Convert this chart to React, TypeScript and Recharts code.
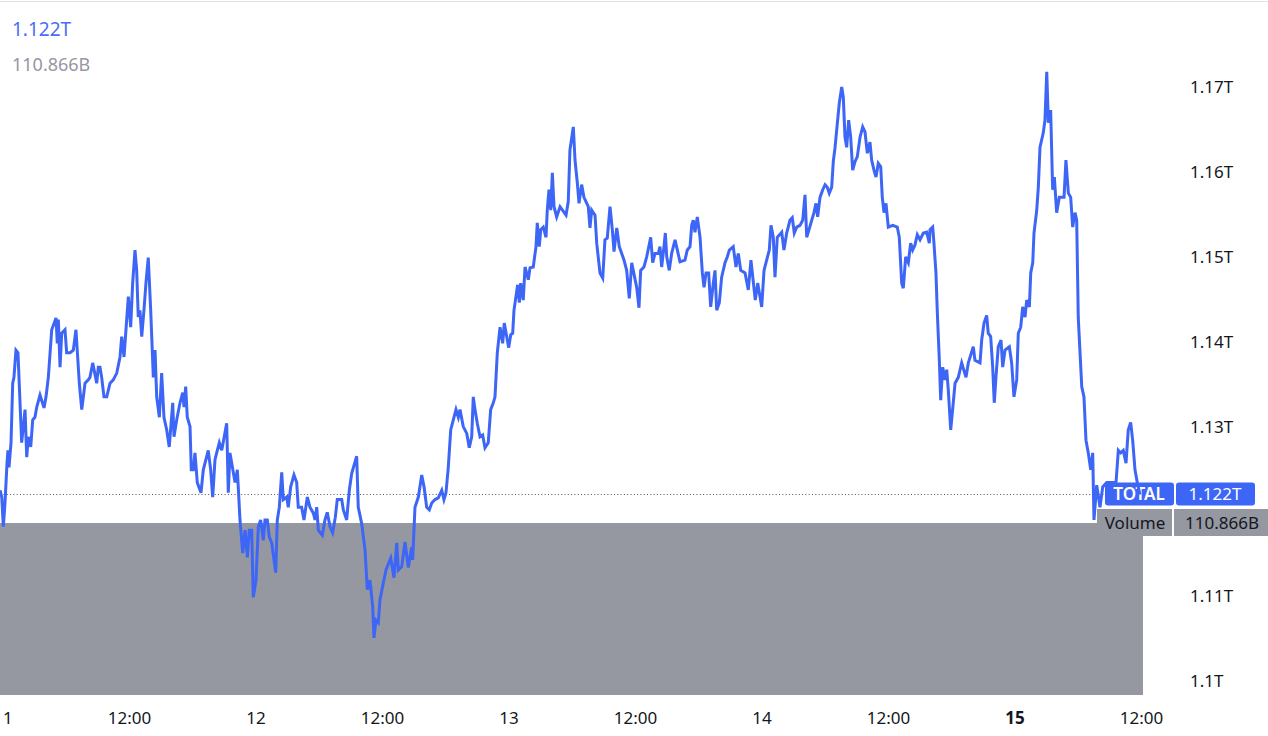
import { LineChart, Line, XAxis, YAxis, ReferenceArea, ReferenceLine } from "recharts";

// hours since day 11, 00:00
const hours = [
  -0.28, -0.12, 0.03, 0.19, 0.38, 0.47, 0.57, 0.76, 0.92, 1.04,
  1.23, 1.42, 1.77, 2.09, 2.25, 2.4, 2.63, 2.82, 3.03, 3.2,
  3.51, 3.89, 4.08, 4.3, 4.62, 5.03, 5.15, 5.25, 5.41, 5.57,
  5.88, 6.04, 6.36, 6.67, 6.92, 7.24, 7.47, 7.62, 7.78, 8.09,
  8.25, 8.51, 8.89, 9.04, 9.2, 9.36, 9.58, 9.84, 10.15, 10.46,
  10.79, 11.1, 11.26, 11.48, 11.89, 12.11, 12.3, 12.52, 12.68, 12.83,
  12.99, 13.16, 13.37, 13.56, 13.78, 14.01, 14.26, 14.42, 14.58, 14.83,
  15.05, 15.27, 15.53, 15.77, 16.1, 16.22, 16.48, 16.79, 17.05, 17.17,
  17.33, 17.48, 17.74, 17.86, 18.05, 18.21, 18.43, 18.78, 19.0, 19.47,
  19.7, 19.89, 20.11, 20.33, 20.52, 20.75, 21.22, 21.37, 21.53, 22.01,
  22.23, 22.48, 22.74, 22.96, 23.18, 23.36, 23.59, 23.74, 24.0, 24.22,
  24.44, 24.69, 24.85, 25.07, 25.26, 25.49, 25.87, 26.02, 26.21, 26.44,
  26.59, 26.91, 27.06, 27.29, 27.6, 27.86, 28.01, 28.33, 28.55, 28.87,
  29.12, 29.44, 29.6, 29.76, 29.91, 30.29, 30.54, 30.76, 31.02, 31.27,
  31.52, 31.71, 32.13, 32.28, 32.6, 32.85, 33.08, 33.55, 33.7, 34.02,
  34.34, 34.56, 34.81, 35.07, 35.19, 35.38, 35.6, 35.76, 36.08, 36.33,
  36.78, 37.09, 37.35, 37.5, 37.82, 38.13, 38.45, 38.77, 38.86, 39.08,
  39.4, 39.72, 39.94, 40.19, 40.44, 40.67, 40.98, 41.29, 41.62, 41.83,
  42.02, 42.24, 42.47, 42.97, 43.19, 43.35, 43.66, 43.99, 44.23, 44.46,
  44.61, 44.77, 44.99, 45.25, 45.5, 45.72, 46.03, 46.26, 46.51, 46.67,
  46.89, 47.15, 47.4, 47.55, 47.78, 47.97, 48.16, 48.35, 48.47, 48.82,
  48.98, 49.11, 49.35, 49.52, 49.83, 49.99, 50.3, 50.56, 50.68, 50.87,
  51.01, 51.25, 51.51, 51.63, 51.79, 51.96, 52.11, 52.27, 52.52, 52.84,
  53.41, 53.62, 53.78, 54.1, 54.26, 54.48, 54.64, 54.89, 55.11, 55.52,
  55.68, 55.84, 56.16, 56.32, 56.63, 56.89, 57.1, 57.32, 57.58, 57.8,
  57.96, 58.22, 58.46, 58.91, 59.16, 59.41, 59.64, 60.11, 60.33, 60.49,
  60.8, 61.06, 61.44, 61.63, 61.85, 62.16, 62.32, 62.48, 62.7, 62.83,
  62.96, 63.2, 63.43, 63.75, 64.22, 64.69, 64.91, 65.17, 65.33, 65.48,
  65.64, 65.86, 66.12, 66.34, 66.5, 66.69, 66.94, 67.13, 67.38, 67.54,
  67.7, 67.95, 68.17, 68.49, 68.71, 68.9, 69.27, 69.53, 69.75, 69.98,
  70.39, 70.7, 70.95, 71.36, 71.59, 71.97, 72.19, 72.44, 72.69, 72.85,
  73.07, 73.23, 73.45, 73.87, 74.08, 74.34, 74.65, 74.87, 75.06, 75.29,
  75.6, 75.86, 76.08, 76.24, 76.46, 76.71, 76.93, 77.12, 77.28, 77.5,
  77.76, 77.98, 78.19, 78.38, 78.61, 78.76, 78.92, 79.08, 79.33, 79.56,
  79.71, 79.87, 80.03, 80.22, 80.41, 80.6, 80.82, 81.04, 81.3, 81.55,
  81.77, 81.99, 82.24, 82.4, 82.62, 82.81, 83.03, 83.26, 83.41, 83.57,
  83.76, 83.98, 84.4, 84.83, 85.02, 85.25, 85.4, 85.63, 85.88, 86.1,
  86.29, 86.51, 86.73, 86.99, 87.3, 87.62, 87.87, 87.94, 88.19, 88.31,
  88.5, 88.63, 88.82, 88.95, 89.14, 89.36, 89.52, 89.67, 89.9, 90.14,
  90.31, 90.62, 90.94, 91.35, 91.57, 92.04, 92.2, 92.68, 92.84, 93.06,
  93.31, 93.46, 93.69, 93.88, 94.03, 94.19, 94.41, 94.67, 94.83, 95.05,
  95.46, 95.68, 95.9, 96.16, 96.31, 96.54, 96.73, 96.95, 97.11, 97.36,
  97.49, 97.68, 97.8, 98.06, 98.21, 98.37, 98.68, 98.84, 99.01, 99.16,
  99.38, 99.57, 99.73, 99.95, 100.2, 100.65, 100.83, 101.06, 101.28, 101.47,
  101.69, 101.85, 102.0, 102.33, 102.54, 102.73, 102.95, 103.18, 103.37, 103.49,
  103.75, 104.06, 104.32, 104.7, 105.33, 105.58, 105.8, 106.02, 106.27, 106.53,
  106.74, 106.97, 107.16, 107.38, 107.6, 107.85,
];

// total market cap, trillions
const totalCap = [
  1.1225, 1.1217, 1.1182, 1.121, 1.1257, 1.1272, 1.1252, 1.1281, 1.1351, 1.1358,
  1.139, 1.1387, 1.1281, 1.132, 1.1264, 1.1288, 1.1276, 1.1308, 1.1311, 1.1323,
  1.1337, 1.1322, 1.1335, 1.1358, 1.1414, 1.1428, 1.1398, 1.1426, 1.137, 1.141,
  1.1414, 1.1387, 1.1387, 1.139, 1.1414, 1.1351, 1.132, 1.1335, 1.1351, 1.1355,
  1.1358, 1.1375, 1.1351, 1.137, 1.137, 1.1358, 1.1335, 1.1335, 1.1351, 1.1355,
  1.1363, 1.1382, 1.1406, 1.1382, 1.1453, 1.1417, 1.1469, 1.1508, 1.1484, 1.1429,
  1.1437, 1.1406, 1.1437, 1.1469, 1.1499, 1.1437, 1.1358, 1.139, 1.1335, 1.1311,
  1.1363, 1.1311, 1.1296, 1.1276, 1.1328, 1.1288, 1.1308, 1.1328, 1.134, 1.1323,
  1.1347, 1.1311, 1.13, 1.1249, 1.1249, 1.1269, 1.1234, 1.1222, 1.1249, 1.1272,
  1.1249, 1.1217, 1.1261, 1.1272, 1.1281, 1.1272, 1.1304, 1.1222, 1.1269, 1.1234,
  1.1249, 1.119, 1.1151, 1.1178, 1.1146, 1.1178, 1.1178, 1.1099, 1.1119, 1.1182,
  1.119, 1.1166, 1.119, 1.119, 1.117, 1.1163, 1.1128, 1.119, 1.1205, 1.1246,
  1.1214, 1.1217, 1.1205, 1.1229, 1.1243, 1.1234, 1.1205, 1.1205, 1.119, 1.1217,
  1.1205, 1.1198, 1.119, 1.1205, 1.1178, 1.1172, 1.119, 1.1199, 1.1182, 1.1175,
  1.1193, 1.1214, 1.1214, 1.1202, 1.119, 1.1225, 1.1245, 1.1265, 1.1205, 1.1186,
  1.1155, 1.1108, 1.1119, 1.1088, 1.1051, 1.1072, 1.1069, 1.1096, 1.1116, 1.1131,
  1.1145, 1.1122, 1.1163, 1.1131, 1.1135, 1.1164, 1.1134, 1.1158, 1.1143, 1.1205,
  1.1217, 1.1243, 1.1229, 1.1205, 1.1202, 1.121, 1.1214, 1.1216, 1.1225, 1.1214,
  1.1222, 1.1252, 1.1296, 1.132, 1.1311, 1.132, 1.13, 1.1292, 1.1275, 1.1288,
  1.1335, 1.132, 1.1304, 1.1288, 1.129, 1.1275, 1.1281, 1.132, 1.1328, 1.1335,
  1.1387, 1.1417, 1.1398, 1.1422, 1.1406, 1.1393, 1.1408, 1.141, 1.1437, 1.1467,
  1.1446, 1.1469, 1.1449, 1.1488, 1.1473, 1.1487, 1.1488, 1.1512, 1.154, 1.1512,
  1.1532, 1.1535, 1.1523, 1.1555, 1.1579, 1.1555, 1.1599, 1.1559, 1.1547, 1.1559,
  1.1549, 1.1565, 1.1626, 1.1653, 1.1614, 1.1587, 1.1563, 1.1585, 1.157, 1.1559,
  1.1534, 1.1555, 1.1549, 1.1516, 1.1481, 1.1475, 1.152, 1.1522, 1.1559, 1.1532,
  1.1506, 1.1534, 1.1512, 1.1496, 1.1484, 1.1451, 1.1493, 1.1464, 1.144, 1.1484,
  1.1488, 1.15, 1.1523, 1.1493, 1.1504, 1.1504, 1.1512, 1.1488, 1.1512, 1.1528,
  1.15, 1.1484, 1.1504, 1.152, 1.1494, 1.1496, 1.1508, 1.1512, 1.1537, 1.1543,
  1.1529, 1.1547, 1.1523, 1.1481, 1.1464, 1.1481, 1.1481, 1.1441, 1.1469, 1.1484,
  1.1437, 1.1446, 1.1476, 1.1493, 1.15, 1.1508, 1.1512, 1.1488, 1.1504, 1.1484,
  1.1481, 1.1461, 1.1496, 1.1449, 1.1469, 1.1441, 1.1484, 1.1496, 1.1508, 1.1537,
  1.1523, 1.1476, 1.1523, 1.1529, 1.1508, 1.1528, 1.1543, 1.1546, 1.1528, 1.1535,
  1.1537, 1.1543, 1.1573, 1.1523, 1.1532, 1.1543, 1.1552, 1.1563, 1.1547, 1.157,
  1.1579, 1.1585, 1.1582, 1.1575, 1.1582, 1.1612, 1.1628, 1.1649, 1.1681, 1.17,
  1.1688, 1.1641, 1.1629, 1.1661, 1.1641, 1.1602, 1.1612, 1.1618, 1.1641, 1.1653,
  1.1647, 1.1622, 1.1635, 1.1614, 1.1602, 1.1594, 1.161, 1.1606, 1.157, 1.1552,
  1.1563, 1.1535, 1.1537, 1.1535, 1.1523, 1.1469, 1.1463, 1.15, 1.1493, 1.1516,
  1.1508, 1.1514, 1.1526, 1.152, 1.1528, 1.1529, 1.1516, 1.1532, 1.1535, 1.1516,
  1.1481, 1.1434, 1.1378, 1.1331, 1.137, 1.1355, 1.1367, 1.1343, 1.1296, 1.1328,
  1.1351, 1.1358, 1.1375, 1.1358, 1.1375, 1.1394, 1.1378, 1.1375, 1.1402, 1.1422,
  1.1431, 1.141, 1.1406, 1.137, 1.1328, 1.1358, 1.1394, 1.1402, 1.137, 1.139,
  1.1394, 1.1375, 1.1335, 1.1355, 1.141, 1.1417, 1.1441, 1.1429, 1.1449, 1.1441,
  1.1481, 1.1493, 1.1528, 1.1555, 1.1582, 1.1629, 1.1646, 1.1661, 1.1718, 1.1658,
  1.1673, 1.1579, 1.1594, 1.1552, 1.157, 1.157, 1.1614, 1.1575, 1.157, 1.1535,
  1.1552, 1.1543, 1.1428, 1.1347, 1.1335, 1.1284, 1.1269, 1.1249, 1.1269, 1.119,
  1.1231, 1.1205, 1.1229, 1.1234, 1.1234, 1.1234, 1.1272, 1.1269, 1.1272, 1.1257,
  1.1296, 1.1305, 1.1284, 1.1249, 1.1234, 1.122,
];

const lastTotal = 1.122; // T
const lastVolume = 110.866; // B

const xTicks = [0, 12, 24, 36, 48, 60, 72, 84, 96, 108];
const xTickLabels = ["11", "12:00", "12", "12:00", "13", "12:00", "14", "12:00", "15", "12:00"];
const boldTickLabels = ["15"];
const yTicks = [1.1, 1.11, 1.13, 1.14, 1.15, 1.16, 1.17];

const data = hours.map((t, i) => ({ t, total: totalCap[i] }));

const BLUE = "#3d66f7";
const GREY = "#9598a1";
const INK = "#131722";
const FONT = "'Noto Sans', sans-serif";

function XTick({ x, y, payload }: any) {
  const label = xTickLabels[xTicks.indexOf(payload.value)] ?? "";
  return (
    <text
      x={x}
      y={y + 29}
      textAnchor="middle"
      fontSize={17}
      fontFamily={FONT}
      fontWeight={boldTickLabels.includes(label) ? 700 : 400}
      fill={INK}
    >
      {label}
    </text>
  );
}

function YTick({ x, y, payload }: any) {
  return (
    <text x={x} y={y + 6} textAnchor="start" fontSize={17} fontFamily={FONT} fill={INK}>
      {`${+Number(payload.value).toFixed(2)}T`}
    </text>
  );
}

function TotalTag({ viewBox }: any) {
  const right = viewBox.x + viewBox.width;
  const cy = viewBox.y;
  return (
    <g fontFamily={FONT} fontSize={17}>
      <rect x={right - 38} y={cy - 12} width={69} height={23} rx={3} fill={BLUE} />
      <rect x={right + 33} y={cy - 12} width={79} height={23} rx={3} fill={BLUE} />
      <text x={right - 4} y={cy + 6} textAnchor="middle" fill="#fff" fontWeight={600}>
        TOTAL
      </text>
      <text x={right + 72} y={cy + 6} textAnchor="middle" fill="#fff">
        {`${lastTotal}T`}
      </text>
    </g>
  );
}

function VolumeTag({ viewBox }: any) {
  const right = viewBox.x + viewBox.width;
  const cy = viewBox.y;
  return (
    <g fontFamily={FONT} fontSize={17}>
      <rect x={right - 46} y={cy - 14} width={75} height={27} fill={GREY} />
      <rect x={right + 31} y={cy - 14} width={94} height={27} fill={GREY} />
      <line x1={right + 30} y1={cy - 14} x2={right + 30} y2={cy + 13} stroke="#fff" strokeWidth={1} />
      <text x={right - 8} y={cy + 6} textAnchor="middle" fill={INK}>
        Volume
      </text>
      <text x={right + 79} y={cy + 6} textAnchor="middle" fill={INK}>
        {`${lastVolume}B`}
      </text>
    </g>
  );
}

export default function App() {
  return (
    <div style={{ position: "absolute", left: 0, top: 0, width: 1268, height: 736, background: "#fff", overflow: "hidden" }}>
      <div style={{ position: "absolute", left: 0, top: 1, width: 1268, height: 1, background: "#e0e3eb" }} />
      <LineChart width={1268} height={736} data={data} margin={{ top: 0, right: 0, bottom: 0, left: 0 }}>
        <XAxis
          dataKey="t"
          type="number"
          domain={[-0.285, 108.14]}
          allowDataOverflow
          ticks={xTicks}
          interval={0}
          axisLine={false}
          tickLine={false}
          tickSize={0}
          tickMargin={0}
          height={41}
          tick={<XTick />}
        />
        <YAxis
          yAxisId="price"
          orientation="right"
          type="number"
          domain={[1.09838, 1.18025]}
          allowDataOverflow
          ticks={yTicks}
          interval={0}
          axisLine={false}
          tickLine={false}
          tickSize={0}
          tickMargin={47}
          width={125}
          tick={<YTick />}
        />
        <YAxis yAxisId="vol" orientation="left" type="number" domain={[0, 448]} allowDataOverflow hide width={0} />
        <ReferenceArea yAxisId="vol" y1={0} y2={lastVolume} fill={GREY} fillOpacity={1} stroke="none" ifOverflow="visible" />
        <ReferenceLine
          yAxisId="price"
          y={lastTotal}
          stroke="#4a4f5a"
          strokeWidth={1}
          strokeDasharray="1 2.3"
          label={<TotalTag />}
        />
        <ReferenceLine yAxisId="vol" y={lastVolume} stroke="none" ifOverflow="visible" label={<VolumeTag />} />
        <Line
          yAxisId="price"
          dataKey="total"
          type="linear"
          stroke={BLUE}
          strokeWidth={3}
          dot={false}
          activeDot={false}
          isAnimationActive={false}
        />
      </LineChart>
      <div style={{ position: "absolute", left: 12, top: 20, fontFamily: FONT, fontSize: 19, lineHeight: "19px", color: "#4a6ef5" }}>
        {`${lastTotal}T`}
      </div>
      <div style={{ position: "absolute", left: 12, top: 55, fontFamily: FONT, fontSize: 18, lineHeight: "18px", color: GREY }}>
        {`${lastVolume}B`}
      </div>
    </div>
  );
}
